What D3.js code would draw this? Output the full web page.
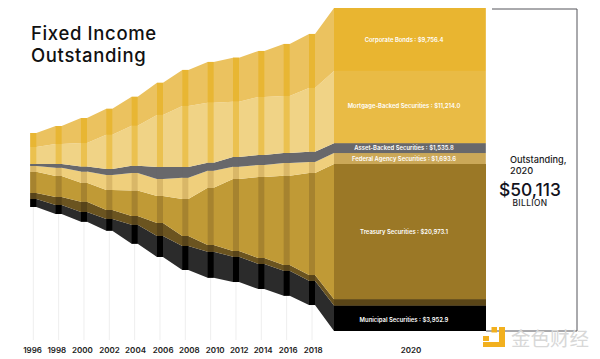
<!DOCTYPE html>
<html>
<head>
<meta charset="utf-8">
<script src="https://cdn.jsdelivr.net/npm/d3@7"></script>
<style>
html,body{margin:0;padding:0;background:#fff}
svg{display:block}
text{font-family:Inter,"Liberation Sans",sans-serif}
</style>
</head>
<body>
<div id="chart"></div>
<script>
// billions of dollars
var years = [1996,1998,2000,2002,2004,2006,2008,2010,2012,2014,2016,2018,2020]
var corporate = [2170,2790,3880,4040,4500,4970,5590,6320,6830,7140,8070,8380,9756.4]
var mortgage = [2640,3100,3650,5280,6210,8070,9470,9310,8580,9000,8850,9890,11214.0]
var assetBacked = [310,570,780,930,1090,1860,1660,1240,1510,1550,1550,1600,1535.8]
var agency = [880,1290,1710,2330,2750,2640,3310,2640,1910,1860,1970,1710,1693.6]
var treasury = [3310,3260,2950,3100,3930,4190,5740,8890,11170,12570,13860,15830,20973.1]
var moneyMarket = [930,1240,1600,1400,1350,2020,1550,1040,880,930,880,880,987]
var municipal = [1240,1400,1510,1820,2950,3260,3720,4040,3930,3880,3880,3770,3952.9]
// the stream is not on a flat baseline, this is the gap under it
var gapBelow = [19240,18150,16960,15570,13550,11490,9470,8270,7600,6520,5480,4030,0]

var seriesNames = ["Municipal","MoneyMarket","Treasury","Agency","AssetBacked","Mortgage","Corporate"]
var seriesValues = [municipal,moneyMarket,treasury,agency,assetBacked,mortgage,corporate]
var bandColors = ["#2b2b2b","#6b5420","#c09a36","#efcf7c","#68686b","#f0d386","#ebc25f"]
var barColors = ["#000000","#58441a","#a6832f","#d9b768","#68686b","#ebc14f","#e8b633"]
var lastColors = ["#000000","#5a4517","#9b7826","#cba858","#68686b","#e9bb45","#e9b530"]

var labels2020 = [
  "Municipal Securities : $3,952.9",
  "",
  "Treasury Securities : $20,973.1",
  "Federal Agency Securities : $1,693.6",
  "Asset-Backed Securities : $1,535.8",
  "Mortgage-Backed Securities : $11,214.0",
  "Corporate Bonds : $9,756.4"
]

var width = 600, height = 359
var barW = 6

var svg = d3.select("#chart").append("svg").attr("width",width).attr("height",height)

var x = d3.scaleLinear().domain([1996,2018]).range([33.3,312])
var y = d3.scaleLinear().domain([0,50113]).range([331,8])
var last = years.length-1
var lastLeft = 334, lastRight = 486

var rows = years.map(function(yr,i){
    var row = {year:yr}
    seriesNames.forEach(function(n,s){ row[n] = seriesValues[s][i] })
    return row
})

var stack = d3.stack().keys(seriesNames).offset(function(series,order){
    for(var i=0;i<series[0].length;i++){
        var base = gapBelow[i]
        for(var j=0;j<order.length;j++){
            var s = series[order[j]]
            s[i][0] = base
            base += s[i][1]
            s[i][1] = base
        }
    }
})
var layers = stack(rows)

// every year is flat across its bar, so each one gives two points
function flatPoints(layer){
    var pts = []
    layer.forEach(function(d,i){
        if(i==last){
            pts.push({x:lastLeft,v:d})
            pts.push({x:lastRight,v:d})
        }else{
            pts.push({x:x(d.data.year)-barW/2,v:d})
            pts.push({x:x(d.data.year)+barW/2,v:d})
        }
    })
    return pts
}
var area = d3.area()
    .x(function(p){return p.x})
    .y0(function(p){return y(p.v[0])})
    .y1(function(p){return y(p.v[1])})

// gridlines under the stream
svg.append("g").selectAll("line")
    .data(years.slice(0,last))
    .enter().append("line")
    .attr("x1",function(d){return x(d)})
    .attr("x2",function(d){return x(d)})
    .attr("y1",function(d,i){return y(gapBelow[i])})
    .attr("y2",340)
    .attr("stroke","#eeeeee")
    .attr("stroke-width",1)

svg.append("g").selectAll("path")
    .data(layers)
    .enter().append("path")
    .attr("d",function(l){return area(flatPoints(l))})
    .attr("fill",function(l,i){return bandColors[i]})

// the labels do not sit quite in the middle of their blocks
var labelNudge = [3.6,0,2,2.8,2,0.7,3]

// darker bars on each year
layers.forEach(function(l,i){
    svg.append("g").selectAll("rect")
        .data(l.slice(0,last))
        .enter().append("rect")
        .attr("x",function(d){return x(d.data.year)-barW/2})
        .attr("width",barW)
        .attr("y",function(d){return y(d[1])})
        .attr("height",function(d){return y(d[0])-y(d[1])})
        .attr("fill",barColors[i])
    svg.append("rect")
        .attr("x",lastLeft)
        .attr("width",lastRight-lastLeft)
        .attr("y",y(l[last][1]))
        .attr("height",y(l[last][0])-y(l[last][1]))
        .attr("fill",lastColors[i])
    if(labels2020[i]!=""){
        svg.append("text")
            .attr("x",404)
            .attr("y",(y(l[last][0])+y(l[last][1]))/2+labelNudge[i])
            .attr("text-anchor","middle")
            .attr("font-size",5.9)
            .attr("font-weight",600)
            .attr("fill","#fff")
            .text(labels2020[i])
    }
})

// pale edge down the right of the yellow part of 2020
svg.append("rect").attr("x",485.5).attr("width",1).attr("y",y(50113))
    .attr("height",y(gapBelow[last]+municipal[last]+moneyMarket[last]+treasury[last])-y(50113))
    .attr("fill","#fff").attr("opacity",0.35)

// year axis, the labels wander a little from their bars
var tickNudge = [-1.3,-2.3,-2,-0.3,0.4,2.7,3.6,4,2.7,1.3,1,0.7]
var axis = d3.axisBottom(x).tickValues(years.slice(0,last)).tickFormat(d3.format("d")).tickSize(0)
var axisG = svg.append("g").attr("transform","translate(0,350)").call(axis)
axisG.select(".domain").remove()
axisG.selectAll("text").attr("x",function(d,i){return tickNudge[i]}).attr("y",0).attr("dy","0.37em")
    .attr("font-size",8).attr("font-weight",600).attr("fill","#222")
    .style("font-family","Inter")
svg.append("text").attr("x",411).attr("y",353).attr("text-anchor","middle")
    .attr("font-size",8).attr("font-weight",600).attr("fill","#222").text("2020")

// bracket on the right
svg.append("path")
    .attr("d","M492,9H577V331H"+lastRight)
    .attr("fill","none").attr("stroke","#55555a").attr("stroke-width",1)

// title
var title = svg.append("text").attr("fill","#111").attr("font-size",18.5).attr("font-weight",500).attr("letter-spacing",0.65)
title.append("tspan").attr("x",31).attr("y",40).text("Fixed Income")
title.append("tspan").attr("x",31).attr("y",62).text("Outstanding")

var note = svg.append("text").attr("fill","#1a1a22").attr("font-size",9.2).attr("font-weight",500)
note.append("tspan").attr("x",510).attr("y",163).text("Outstanding,")
note.append("tspan").attr("x",510).attr("y",174).text("2020")
svg.append("text").attr("x",499).attr("y",196).attr("fill","#12121c")
    .attr("font-size",17.4).attr("font-weight",500).text("$50,113")
svg.append("text").attr("x",530).attr("y",205.5).attr("text-anchor","middle").attr("fill","#1a1a22")
    .attr("font-size",8.4).attr("font-weight",500).attr("letter-spacing",0.4).text("BILLION")

// watermark
svg.append("text").attr("x",511).attr("y",346).attr("fill","#d8d8d8")
    .attr("font-size",19.5).style("font-family","'Noto Sans CJK SC'").text("金色财经")
svg.append("path").attr("d","M499,327h6v20h-22v-5h16z").attr("fill","#f2b01e")
svg.append("rect").attr("x",491.5).attr("y",327).attr("width",5.5).attr("height",5.5).attr("fill","#f2b01e")
svg.append("rect").attr("x",483).attr("y",336).attr("width",6).attr("height",5).attr("fill","#f2b01e")
</script>
</body>
</html>
